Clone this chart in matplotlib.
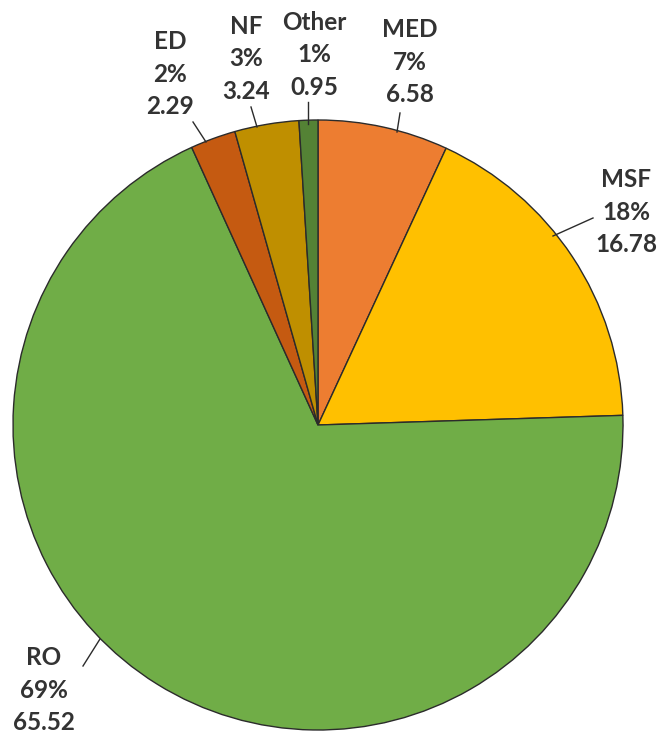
import matplotlib.pyplot as plt

# slice values, clockwise from 12 o'clock
labels = ["MED", "MSF", "RO", "ED", "NF", "Other"]
values = [6.58, 16.78, 65.52, 2.29, 3.24, 0.95]
percents = ["7%", "18%", "69%", "2%", "3%", "1%"]
colors = ["#ED7D31", "#FFC000", "#70AD47", "#C55A11", "#BF8F00", "#548235"]

W, H = 665, 735
CX, CY, R = 318, 425, 305


def px(x, y):
    # pixel position -> pie data units (centre at 0,0, radius 1)
    return (x - CX) / R, (CY - y) / R


# label centre and leader line (start on the rim, end near the text), in pixels
label_pos = {
    "MED": (410, 62),
    "MSF": (626, 212),
    "RO": (44, 690),
    "ED": (170, 74),
    "NF": (246, 59),
    "Other": (314, 55),
}
leaders = {
    "MED": ((397, 132), (400, 113)),
    "MSF": ((553, 236), (593, 218)),
    "RO": ((100, 639), (83, 666)),
    "ED": ((206, 142), (193, 122)),
    "NF": ((257, 127), (251, 107)),
    "Other": ((308, 124), (308, 102)),
}

fig = plt.figure(figsize=(W / 100, H / 100), dpi=100)
ax = fig.add_axes([0, 0, 1, 1])
ax.pie(values, colors=colors, startangle=90, counterclock=False, radius=1,
       wedgeprops=dict(edgecolor="#2b2b2b", linewidth=1.0))

x0, y1 = px(0, 0)
x1, y0 = px(W, H)
ax.set_xlim(x0, x1)
ax.set_ylim(y0, y1)
ax.set_aspect("equal")
ax.axis("off")

for name, pct, val in zip(labels, percents, values):
    tx, ty = px(*label_pos[name])
    ax.text(tx, ty, f"{name}\n{pct}\n{val:.2f}", ha="center", va="center",
            fontsize=17.5, fontweight="bold", family="Lato", color="#333333",
            linespacing=1.5)
    (sx, sy), (ex, ey) = leaders[name]
    a, b = px(sx, sy)
    c, d = px(ex, ey)
    ax.plot([a, c], [b, d], color="#2b2b2b", linewidth=1.0)

fig.savefig("out.png", dpi=100)
